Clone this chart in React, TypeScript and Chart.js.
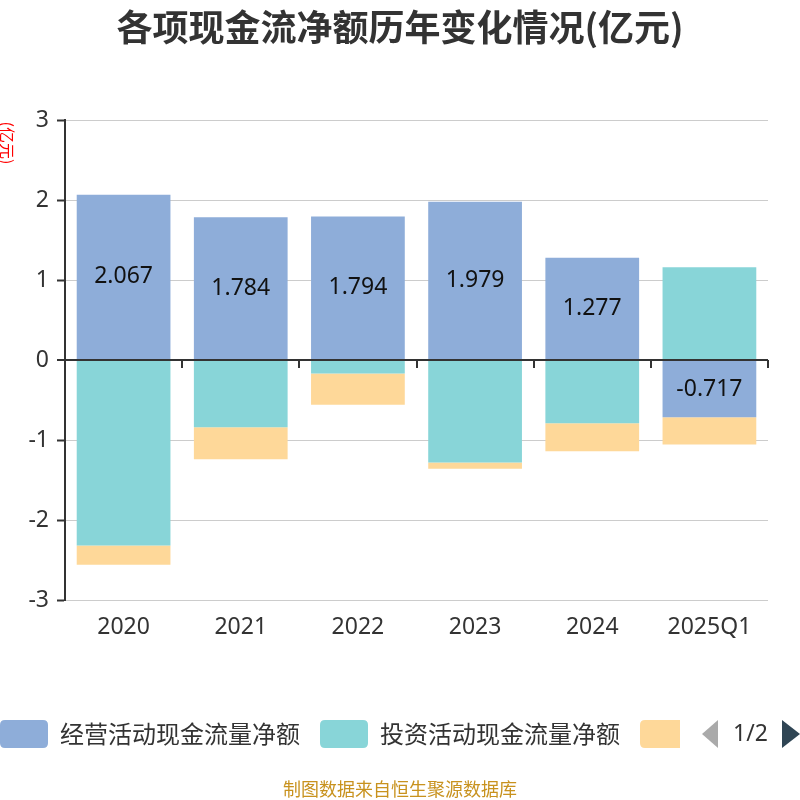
import { useEffect, useRef } from "react";
import { Chart, registerables, Plugin } from "chart.js";

Chart.register(...registerables);

const years = ["2020", "2021", "2022", "2023", "2024", "2025Q1"];
const operating = [2.067, 1.784, 1.794, 1.979, 1.277, -0.717];
const investing = [-2.32, -0.84, -0.17, -1.28, -0.79, 1.16];
const financing = [-0.24, -0.4, -0.39, -0.08, -0.35, -0.34];
const seriesNames = ["经营活动现金流量净额", "投资活动现金流量净额", "筹资活动现金流量净额"];
const colors = ["#8eadd9", "#88d5d8", "#fed899"];

const FONT = '"Noto Sans", "Noto Sans CJK SC", sans-serif';
const CJK = '"Noto Sans CJK SC", "Noto Sans", sans-serif';

const roundRect = (ctx: CanvasRenderingContext2D, x: number, y: number, w: number, h: number, r: number) => {
  ctx.beginPath();
  ctx.moveTo(x + r, y);
  ctx.lineTo(x + w - r, y);
  ctx.quadraticCurveTo(x + w, y, x + w, y + r);
  ctx.lineTo(x + w, y + h - r);
  ctx.quadraticCurveTo(x + w, y + h, x + w - r, y + h);
  ctx.lineTo(x + r, y + h);
  ctx.quadraticCurveTo(x, y + h, x, y + h - r);
  ctx.lineTo(x, y + r);
  ctx.quadraticCurveTo(x, y, x + r, y);
  ctx.closePath();
};

// title, unit, x ticks on zero line, value labels, paged legend, footer
const decorations: Plugin<"bar"> = {
  id: "decorations",
  afterDraw(chart) {
    const { ctx, chartArea, scales } = chart;
    const y = scales.y;
    ctx.save();

    // title
    ctx.fillStyle = "#333";
    ctx.font = `bold 36px ${CJK}`;
    ctx.textAlign = "center";
    ctx.textBaseline = "middle";
    ctx.fillText("各项现金流净额历年变化情况(亿元)", 400, 27);

    // unit
    ctx.save();
    ctx.translate(7, 143);
    ctx.rotate(Math.PI / 2);
    ctx.fillStyle = "#ff0000";
    ctx.font = `16px ${CJK}`;
    ctx.fillText("(亿元)", 0, 0);
    ctx.restore();

    // ticks on the zero line
    const y0 = y.getPixelForValue(0);
    const step = (chartArea.right - chartArea.left) / years.length;
    ctx.strokeStyle = "#333";
    ctx.lineWidth = 2;
    for (let i = 1; i <= years.length; i++) {
      const px = Math.round(chartArea.left + step * i);
      ctx.beginPath();
      ctx.moveTo(px, y0);
      ctx.lineTo(px, y0 + 8);
      ctx.stroke();
    }

    // value labels on operating bars
    ctx.fillStyle = "#111";
    ctx.font = `23px ${FONT}`;
    const meta = chart.getDatasetMeta(0);
    meta.data.forEach((bar: any, i: number) => {
      const cy = (bar.y + bar.base) / 2;
      ctx.fillText(operating[i].toFixed(3), bar.x, cy);
    });

    // legend
    ctx.textAlign = "left";
    ctx.font = `24px ${CJK}`;
    const legendY = 734;
    const boxes = [0, 320, 640];
    boxes.forEach((bx, i) => {
      const w = i === 2 ? 40 : 48;
      ctx.save();
      ctx.beginPath();
      ctx.rect(bx, legendY - 16, w, 32);
      ctx.clip();
      ctx.fillStyle = colors[i];
      roundRect(ctx, bx, legendY - 14, 48, 28, 5);
      ctx.fill();
      ctx.restore();
      if (i < 2) {
        ctx.fillStyle = "#333";
        ctx.fillText(seriesNames[i], bx + 60, legendY);
      }
    });
    ctx.fillStyle = "#aaa";
    ctx.beginPath();
    ctx.moveTo(702, legendY);
    ctx.lineTo(718, legendY - 14);
    ctx.lineTo(718, legendY + 14);
    ctx.closePath();
    ctx.fill();
    ctx.fillStyle = "#333";
    ctx.font = `23px ${FONT}`;
    ctx.fillText("1/2", 733, legendY);
    ctx.fillStyle = "#2f4554";
    ctx.beginPath();
    ctx.moveTo(800, legendY);
    ctx.lineTo(782, legendY - 14);
    ctx.lineTo(782, legendY + 14);
    ctx.closePath();
    ctx.fill();

    // footer
    ctx.textAlign = "center";
    ctx.fillStyle = "#c8921e";
    ctx.font = `18px ${CJK}`;
    ctx.fillText("制图数据来自恒生聚源数据库", 400, 789);

    ctx.restore();
  },
};

const App = () => {
  const canvasRef = useRef<HTMLCanvasElement>(null);
  const chartRef = useRef<Chart | null>(null);

  useEffect(() => {
    const ctx = canvasRef.current?.getContext("2d");
    if (!ctx) return;

    chartRef.current = new Chart(ctx, {
      type: "bar",
      data: {
        labels: years,
        datasets: [operating, investing, financing].map((d, i) => ({
          label: seriesNames[i],
          data: d,
          backgroundColor: colors[i],
          borderWidth: 0,
          barPercentage: 0.8,
          categoryPercentage: 1,
        })),
      },
      options: {
        animation: false,
        responsive: false,
        layout: { padding: { left: 0, right: 32, top: 120, bottom: 150 } },
        plugins: {
          legend: { display: false },
          title: { display: false },
          tooltip: { enabled: false },
        },
        scales: {
          x: {
            stacked: true,
            grid: { display: false, drawTicks: false },
            border: { display: false },
            ticks: { color: "#333", font: { size: 23, family: FONT }, padding: 14 },
            afterFit: (s: any) => {
              s.height = 50;
            },
          },
          y: {
            stacked: true,
            min: -3,
            max: 3,
            ticks: { stepSize: 1, color: "#333", font: { size: 23, family: FONT }, padding: 8 },
            grid: {
              color: (c: any) => (c.tick && c.tick.value === 0 ? "#333" : "#ccc"),
              lineWidth: (c: any) => (c.tick && c.tick.value === 0 ? 2 : 1),
              tickColor: "#333",
              tickLength: 8,
              tickWidth: 2,
            },
            border: { display: true, color: "#333", width: 2 },
            afterFit: (s: any) => {
              s.width = 65;
            },
          },
        },
      },
      plugins: [decorations],
    });

    return () => {
      chartRef.current?.destroy();
    };
  }, []);

  return (
    <div style={{ position: "fixed", left: 0, top: 0, width: 800, height: 800 }}>
      <canvas ref={canvasRef} width={800} height={800} style={{ display: "block" }} />
    </div>
  );
};

export default App;
